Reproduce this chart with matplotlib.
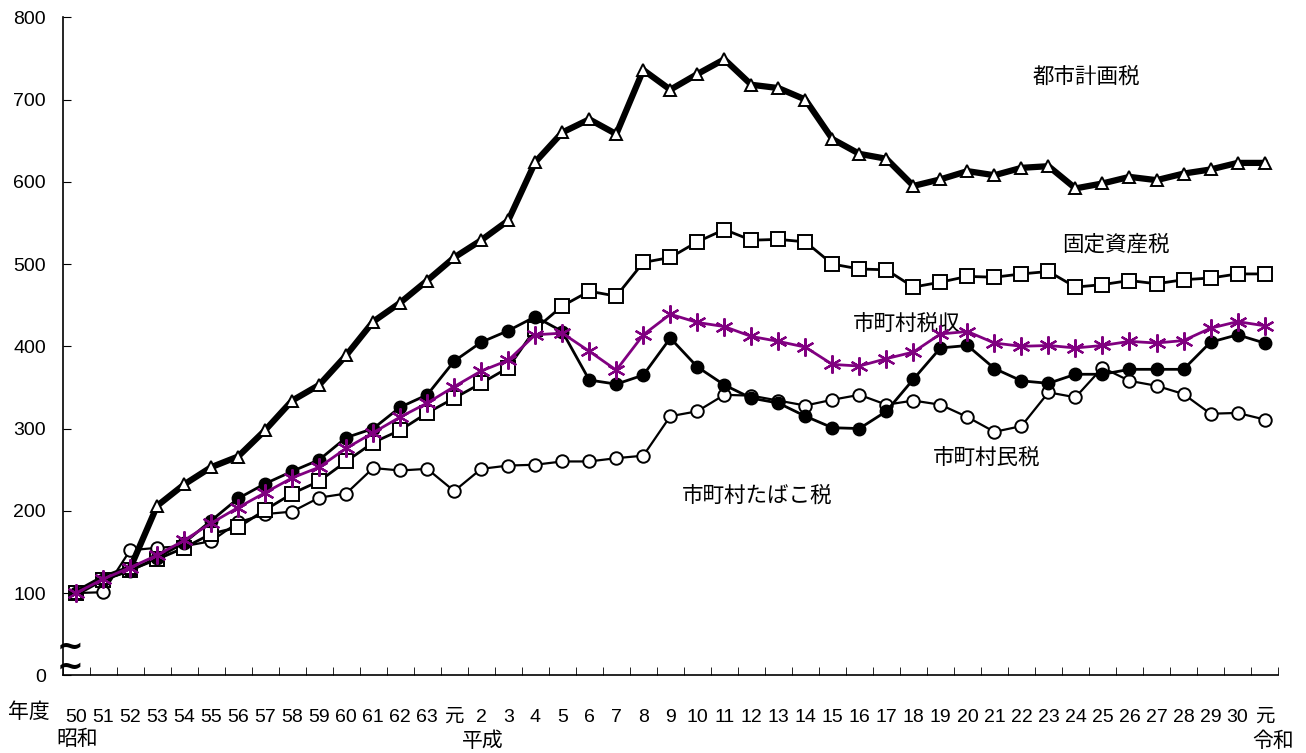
import numpy as np
import matplotlib
matplotlib.use("Agg")
import matplotlib.pyplot as plt

plt.rcParams['font.family'] = ['Liberation Sans', 'Noto Sans CJK JP']

# 年度 labels: 昭和50..63, 平成元..30, 令和元
years = [str(y) for y in range(50, 64)] + ['元'] + [str(y) for y in range(2, 31)] + ['元']

toshi = [100, 118, 130, 206, 232, 253, 266, 298, 334, 353, 389, 430, 453, 480,
         508, 529, 553, 624, 660, 676, 658, 736, 712, 731, 749, 718, 714, 700,
         652, 634, 628, 595, 603, 613, 608, 617, 619, 592, 598, 606, 602, 610,
         615, 623, 623]
kotei = [100, 116, 128, 141, 155, 172, 180, 201, 221, 236, 260, 283, 298, 319,
         337, 355, 374, 421, 449, 467, 461, 502, 508, 527, 542, 529, 530, 527,
         500, 494, 493, 472, 478, 485, 484, 488, 491, 472, 475, 480, 476, 481,
         483, 488, 488]
zeishu = [100, 117, 131, 146, 164, 185, 204, 222, 240, 253, 276, 295, 314, 331,
          351, 370, 383, 414, 416, 394, 371, 414, 439, 429, 424, 412, 406, 399,
          378, 376, 385, 393, 415, 418, 404, 400, 401, 398, 401, 406, 404, 407,
          422, 430, 425]
minzei = [100, 116, 127, 143, 161, 188, 215, 233, 248, 262, 289, 300, 326, 341,
          382, 405, 419, 436, 418, 359, 354, 365, 410, 375, 353, 337, 331, 315,
          301, 300, 321, 360, 398, 401, 373, 358, 355, 366, 366, 372, 372, 372,
          405, 414, 404]
tabako = [100, 101, 152, 155, 157, 163, 186, 196, 199, 216, 221, 252, 249, 251,
          224, 251, 255, 256, 260, 260, 264, 267, 315, 321, 341, 340, 334, 328,
          335, 341, 329, 334, 329, 314, 296, 303, 344, 338, 374, 358, 352, 342,
          318, 319, 311]

x = np.arange(len(years))
purple = '#800080'

fig = plt.figure(figsize=(13.06, 7.53), dpi=100)
ax = fig.add_axes([0.0479, 0.1032, 0.9307, 0.8738])

ax.plot(x, tabako, color='black', lw=1.6, marker='o', ms=9, mfc='white', mec='black', mew=1.4, zorder=3)
ax.plot(x, minzei, color='black', lw=2, marker='o', ms=9, mfc='black', mec='black', zorder=4)
ax.plot(x, kotei, color='black', lw=2, marker='s', ms=10, mfc='white', mec='black', mew=1.4, zorder=3)
ax.plot(x, toshi, color='black', lw=4.5, marker='^', ms=9, mfc='white', mec='black', mew=1.4, zorder=5)
ax.plot(x, zeishu, color=purple, lw=2, marker=(6, 2, 0), ms=13, mec=purple, mew=1.6, zorder=6)

# series names
lbl = dict(ha='center', va='center', fontsize=15.5)
ax.text(37.4, 727, '都市計画税', **lbl)
ax.text(38.5, 523, '固定資産税', **lbl)
ax.text(30.75, 427, '市町村税収', **lbl)
ax.text(33.7, 264, '市町村民税', **lbl)
ax.text(25.2, 218, '市町村たばこ税', **lbl)

ax.set_xlim(-0.5, len(years) - 0.5)
ax.set_ylim(0, 800)
ax.set_yticks(range(0, 801, 100))
ax.set_xticks(x)
ax.set_xticklabels(years)
ax.set_xticks(np.arange(-0.5, len(years), 1), minor=True)

ax.tick_params(axis='y', direction='in', length=6, pad=12, labelsize=14)
ax.tick_params(axis='x', which='major', length=0, pad=24, labelsize=14)
ax.tick_params(axis='x', which='minor', direction='in', length=6)

for s in ['top', 'right']:
    ax.spines[s].set_visible(False)
for s in ['left', 'bottom']:
    ax.spines[s].set_linewidth(1.2)

# axis break mark
tr = ax.get_yaxis_transform()
ax.text(0.006, 22, '~\n~', transform=tr, ha='center', va='center', fontsize=23,
        fontweight='bold', linespacing=0.55, family='DejaVu Sans', clip_on=False)

fs = 15
fig.text(29 / 1306, 1 - 712 / 753, '年度', ha='center', va='center', fontsize=fs)
fig.text(77 / 1306, 1 - 739 / 753, '昭和', ha='center', va='center', fontsize=fs)
fig.text(483 / 1306, 1 - 741 / 753, '平成', ha='center', va='center', fontsize=fs)
fig.text(1273 / 1306, 1 - 741 / 753, '令和', ha='center', va='center', fontsize=fs)

fig.savefig('out.png', dpi=100)
